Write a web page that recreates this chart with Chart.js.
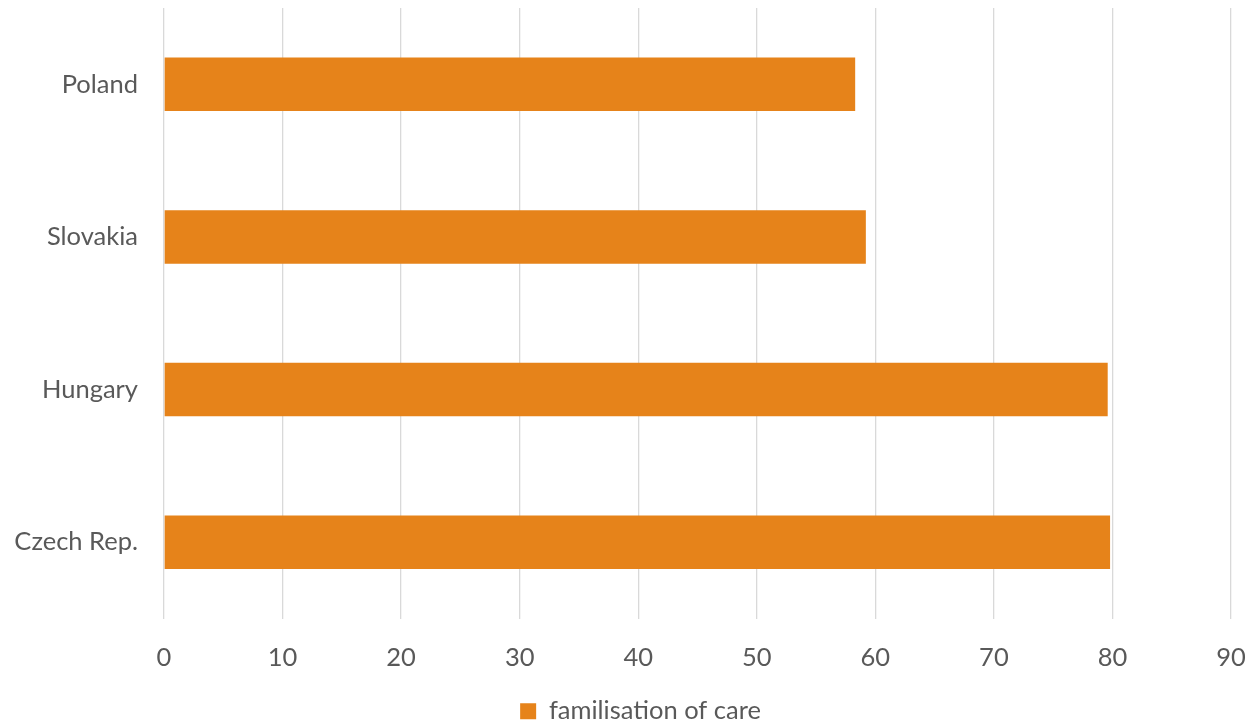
<!DOCTYPE html>
<html>
<head>
<meta charset="utf-8">
<script src="https://cdn.jsdelivr.net/npm/chart.js@4"></script>
<style>
  html, body { margin: 0; padding: 0; background: #fff; }
  #wrap { width: 1251px; height: 721px; }
</style>
</head>
<body>
<div id="wrap"><canvas id="careChart" width="1251" height="721"></canvas></div>
<script>
// countries, top to bottom
const countries = ["Poland", "Slovakia", "Hungary", "Czech Rep."];
const familisation = [58.3, 59.2, 79.6, 79.8];
const xTicks = [0, 10, 20, 30, 40, 50, 60, 70, 80, 90];

const orange = "#E6831A";
const textGrey = "#595959";
const fontFamily = "Lato, 'Open Sans', sans-serif";
const fontSize = 25.5;

// nudge the legend a little right of the canvas centre
const legendShift = {
  id: "legendShift",
  afterLayout(chart) {
    chart.legend.left += 25;
    chart.legend.right += 25;
  }
};

new Chart(document.getElementById("careChart"), {
  type: "bar",
  data: {
    labels: countries,
    datasets: [{
      label: "familisation of care",
      data: familisation,
      backgroundColor: orange,
      borderWidth: 0,
      categoryPercentage: 1,
      barPercentage: 0.35
    }]
  },
  plugins: [legendShift],
  options: {
    indexAxis: "y",
    responsive: false,
    animation: false,
    layout: { padding: { top: 8, right: 20, left: 0, bottom: -13 } },
    plugins: {
      tooltip: { enabled: false },
      legend: {
        position: "bottom",
        labels: {
          color: textGrey,
          font: { family: fontFamily, size: fontSize },
          boxWidth: 16,
          boxHeight: 16,
          padding: 4
        }
      }
    },
    scales: {
      x: {
        min: 0,
        max: 90,
        afterBuildTicks: axis => { axis.ticks = xTicks.map(v => ({ value: v })); },
        afterFit: axis => {
          axis.paddingLeft = 0;
          axis.paddingRight = 0;
          axis.height = 76;
        },
        ticks: {
          color: textGrey,
          font: { family: fontFamily, size: fontSize },
          padding: 24
        },
        grid: { color: "#d9d9d9", lineWidth: 1.3, drawTicks: false },
        border: { display: false }
      },
      y: {
        afterFit: axis => {
          axis.width = 164;
          axis.paddingTop = 0;
          axis.paddingBottom = 0;
        },
        ticks: {
          color: textGrey,
          font: { family: fontFamily, size: fontSize },
          padding: 18
        },
        grid: { display: false },
        border: { display: false }
      }
    }
  }
});
</script>
</body>
</html>
